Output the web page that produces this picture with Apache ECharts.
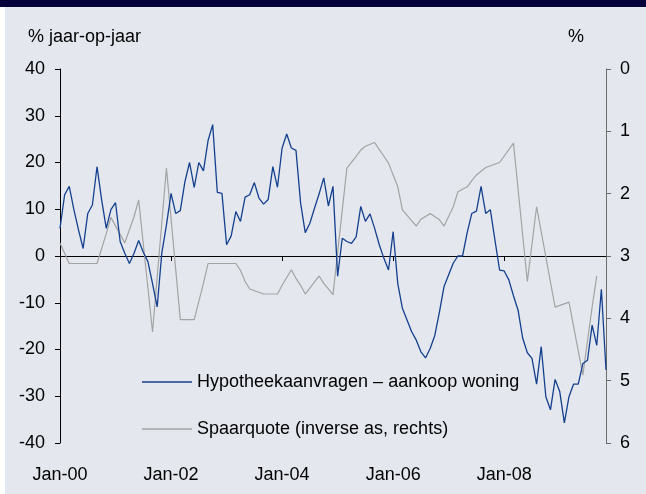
<!DOCTYPE html>
<html>
<head>
<meta charset="utf-8">
<script src="https://cdn.jsdelivr.net/npm/echarts@6/dist/echarts.min.js"></script>
<style>
  html, body { margin: 0; padding: 0; background: #fff; }
  #box { width: 646px; height: 494px; }
</style>
</head>
<body>
<div id="box"></div>
<script>
// maandelijkse reeks, jan-2000 t/m nov-2009
const monthNames = ['Jan', 'Feb', 'Mar', 'Apr', 'May', 'Jun', 'Jul', 'Aug', 'Sep', 'Oct', 'Nov', 'Dec'];
const years = ['00', '01', '02', '03', '04', '05', '06', '07', '08', '09'];
const nMonths = 119;

const hypotheek = [
  5.9, 13.1, 14.9, 9.9, 5.6, 1.6, 9.1, 10.9, 19.1, 12.0,
  5.9, 9.9, 11.4, 3.1, 0.6, -1.6, 0.6, 3.3, 0.8, -1.2,
  -5.9, -10.9, 0.6, 6.6, 13.4, 9.1, 9.7, 15.9, 20.0, 14.7,
  20.0, 18.2, 24.7, 28.1, 13.6, 13.4, 2.4, 4.3, 9.5, 7.4,
  12.6, 13.1, 15.7, 12.4, 11.1, 12.1, 19.1, 14.7, 23.1, 26.1,
  23.1, 22.6, 11.3, 5.0, 7.0, 10.2, 13.3, 16.7, 10.7, 14.9,
  -4.3, 3.8, 3.1, 2.7, 4.1, 10.6, 7.4, 9.0, 5.9, 2.4,
  -0.5, -3.0, 5.2, -5.9, -11.2, -13.7, -16.2, -18.0, -20.5, -21.8,
  -19.8, -17.0, -12.0, -6.5, -4.0, -1.5, 0.0, 0.0, 5.0, 9.1,
  9.6, 14.9, 9.1, 9.9, 3.4, -3.0, -3.2, -5.1, -8.5, -11.6,
  -17.6, -20.7, -21.9, -27.4, -19.4, -30.1, -32.9, -26.4, -29.0, -35.7,
  -30.1, -27.4, -27.4, -23.0, -22.3, -14.8, -19.1, -7.1, -24.4
];

// spaarquote: alleen de knikpunten uit de grafiek, rest leeg (lijn wordt doorgetrokken)
const spaarquote = [
  2.79, null, 3.12, null, null, null, null, null, 3.12, null,
  2.64, 2.38, null, null, 2.79, null, 2.37, 2.10, null, null,
  4.22, null, null, 1.59, null, null, 4.02, null, null, 4.02,
  null, 3.44, 3.12, null, null, null, null, null, 3.12, 3.23,
  3.41, 3.53, null, null, 3.61, null, null, 3.61, 3.47, null,
  3.22, 3.36, 3.47, 3.61, null, null, 3.32, 3.44, null, 3.62,
  null, null, 1.59, null, 1.40, 1.30, 1.24, null, 1.18, null,
  1.40, 1.51, null, 1.89, 2.26, null, null, 2.52, 2.41, null,
  2.32, null, 2.42, 2.52, null, 2.21, 1.97, null, 1.89, 1.79,
  1.70, null, 1.58, null, null, 1.50, null, null, 1.19, null,
  null, 3.41, null, 2.21, null, null, null, 3.82, null, null,
  3.74, null, null, 4.91, null, 3.82, 3.32, null, null
];

const leftTicks = { min: -40, max: 40, step: 10 };
const rightTicks = { min: 0, max: 6, step: 1 };

let categories = [];
for (let i = 0; i < nMonths; i++) {
  categories.push(monthNames[i % 12] + '-' + years[Math.floor(i / 12)]);
}

const font = "'Liberation Sans', Arial, sans-serif";
let myecharts = echarts.init(document.getElementById('box'));
let options = {
  backgroundColor: '#e4e8ee',
  animation: false,
  textStyle: { fontFamily: font },
  grid: {
    left: 60,
    right: 40,
    top: 69,
    bottom: 51,
    containLabel: false
  },
  graphic: [
    { type: 'rect', left: 0, top: 0, shape: { width: 646, height: 7 }, style: { fill: '#03003a' } },
    { type: 'rect', left: 0, top: 7, shape: { width: 5, height: 487 }, style: { fill: '#ffffff' } },
    { type: 'text', x: 28, y: 37, style: { text: '% jaar-op-jaar', font: '18px ' + font, fill: '#000', textVerticalAlign: 'middle' } },
    { type: 'text', x: 576, y: 37, style: { text: '%', font: '18px ' + font, fill: '#000', textAlign: 'center', textVerticalAlign: 'middle' } }
  ],
  legend: {
    orient: 'vertical',
    left: 142,
    top: 373,
    padding: 0,
    icon: 'rect',
    itemWidth: 50,
    itemHeight: 1.4,
    itemGap: 29,
    textStyle: { fontSize: 18, color: '#000', fontFamily: font },
    data: ['Hypotheekaanvragen – aankoop woning', 'Spaarquote (inverse as, rechts)']
  },
  xAxis: [
    {
      type: 'category',
      data: categories,
      boundaryGap: false,
      position: 'bottom',
      axisLine: { show: false, onZero: false },
      axisTick: { show: false },
      axisLabel: { interval: 23, fontSize: 18, color: '#000', margin: 23 },
      splitLine: { show: false }
    },
    {
      type: 'category',
      data: categories,
      boundaryGap: false,
      position: 'bottom',
      axisLine: { show: true, onZero: true, onZeroAxisIndex: 0, lineStyle: { color: '#000', width: 1 } },
      axisTick: { show: true, interval: 23, length: 5, lineStyle: { color: '#000' } },
      axisLabel: { show: false },
      splitLine: { show: false }
    }
  ],
  yAxis: [
    {
      type: 'value',
      position: 'left',
      min: leftTicks.min,
      max: leftTicks.max,
      interval: leftTicks.step,
      axisLine: { show: true, onZero: false, lineStyle: { color: '#000' } },
      axisTick: { show: true, length: 5, lineStyle: { color: '#000' } },
      axisLabel: { fontSize: 18, color: '#000', margin: 15 },
      splitLine: { show: false }
    },
    {
      type: 'value',
      position: 'right',
      inverse: true,
      min: rightTicks.min,
      max: rightTicks.max,
      interval: rightTicks.step,
      axisLine: { show: true, onZero: false, lineStyle: { color: '#6b6b6b' } },
      axisTick: { show: true, length: 5, lineStyle: { color: '#6b6b6b' } },
      axisLabel: { fontSize: 18, color: '#000', margin: 14 },
      splitLine: { show: false }
    }
  ],
  series: [
    {
      name: 'Spaarquote (inverse as, rechts)',
      type: 'line',
      xAxisIndex: 0,
      yAxisIndex: 1,
      data: spaarquote,
      connectNulls: true,
      symbol: 'none',
      lineStyle: { color: '#a3a3a3', width: 1.2 },
      itemStyle: { color: '#a3a3a3' }
    },
    {
      name: 'Hypotheekaanvragen – aankoop woning',
      type: 'line',
      xAxisIndex: 0,
      yAxisIndex: 0,
      data: hypotheek,
      symbol: 'none',
      lineStyle: { color: '#133f8e', width: 1.3 },
      itemStyle: { color: '#133f8e' }
    }
  ]
};
myecharts.setOption(options);
window.onresize = function () {
  myecharts.resize();
};
</script>
</body>
</html>
